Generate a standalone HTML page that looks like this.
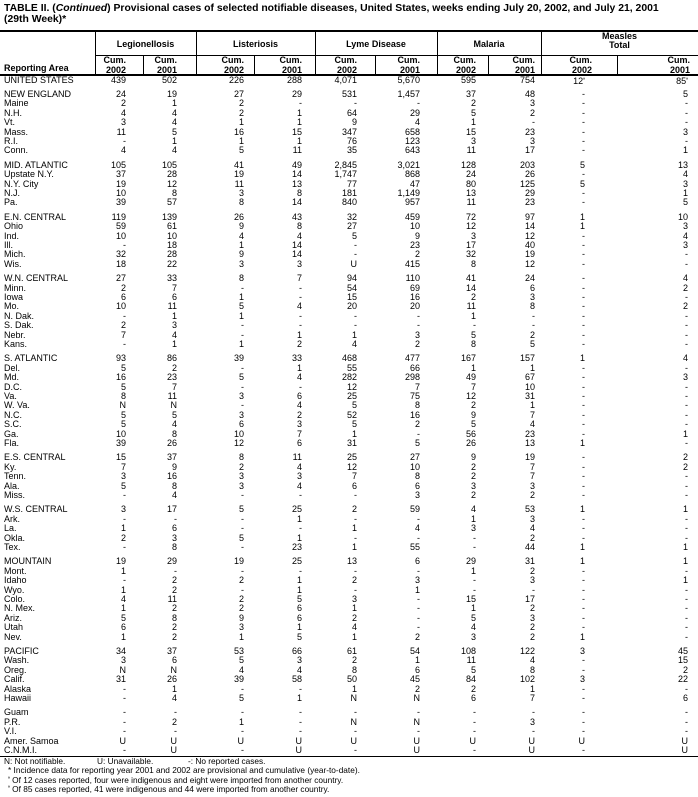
<!DOCTYPE html>
<html><head><meta charset="utf-8">
<style>
*{margin:0;padding:0;box-sizing:border-box}
body{width:698px;height:797px;background:#fff;font-family:"Liberation Sans",Arial,sans-serif;color:#000;position:relative;overflow:hidden}
.t{position:absolute;left:4px;font-weight:bold;font-size:10.4px;line-height:12px;white-space:nowrap}
.hl{position:absolute;background:#000;height:1px}
.vl{position:absolute;background:#000;width:1px}
.h{position:absolute;font-weight:bold;font-size:9px;line-height:9.5px;text-align:center;white-space:nowrap}
.c{position:absolute;font-weight:bold;font-size:9px;line-height:9.5px;text-align:right;white-space:nowrap}
.r{position:absolute;left:0;width:698px;height:10px;line-height:10px;font-size:9px;display:flex;white-space:nowrap}
.r span{text-align:right;display:block}
.r span:nth-child(1){width:95px;text-align:left;padding-left:4px}
.r span:nth-child(2){width:31px}
.r span:nth-child(3){width:51px}
.r span:nth-child(4){width:67px}
.r span:nth-child(5){width:58px}
.r span:nth-child(6){width:55px}
.r span:nth-child(7){width:63px}
.r span:nth-child(8){width:56px}
.r span:nth-child(9){width:59px}
.r span:nth-child(10){width:50px}
.r span:nth-child(11){width:103px}
sup{font-size:5px;vertical-align:3px}
.f{position:absolute;font-size:8.3px;line-height:9px;white-space:nowrap}
</style></head><body>
<div class="t" style="top:3px">TABLE II. (<i>Continued</i>) Provisional cases of selected notifiable diseases, United States, weeks ending July 20, 2002, and July 21, 2001</div>
<div class="t" style="top:14px">(29th Week)*</div>

<div class="hl" style="top:30px;left:0;width:698px;height:1.5px"></div>
<div class="hl" style="top:55px;left:95px;width:603px"></div>
<div class="hl" style="top:74px;left:0;width:698px;height:1.5px"></div>
<div class="vl" style="left:95px;top:30px;height:45px"></div>
<div class="vl" style="left:196px;top:30px;height:45px"></div>
<div class="vl" style="left:315px;top:30px;height:45px"></div>
<div class="vl" style="left:437px;top:30px;height:45px"></div>
<div class="vl" style="left:541px;top:30px;height:45px"></div>
<div class="vl" style="left:143px;top:55px;height:20px"></div>
<div class="vl" style="left:254px;top:55px;height:20px"></div>
<div class="vl" style="left:375px;top:55px;height:20px"></div>
<div class="vl" style="left:488px;top:55px;height:20px"></div>
<div class="vl" style="left:617px;top:55px;height:20px"></div>

<div class="h" style="left:95px;width:101px;top:40px">Legionellosis</div>
<div class="h" style="left:196px;width:119px;top:40px">Listeriosis</div>
<div class="h" style="left:315px;width:122px;top:40px">Lyme Disease</div>
<div class="h" style="left:437px;width:104px;top:40px">Malaria</div>
<div class="h" style="left:541px;width:157px;top:32px">Measles</div>
<div class="h" style="left:541px;width:157px;top:41px">Total</div>

<div class="c" style="left:4px;top:64px;text-align:left">Reporting Area</div>
<div class="c" style="left:96px;width:30px;top:56px">Cum.<br>2002</div>
<div class="c" style="left:144px;width:33px;top:56px">Cum.<br>2001</div>
<div class="c" style="left:197px;width:47px;top:56px">Cum.<br>2002</div>
<div class="c" style="left:255px;width:47px;top:56px">Cum.<br>2001</div>
<div class="c" style="left:316px;width:41px;top:56px">Cum.<br>2002</div>
<div class="c" style="left:376px;width:44px;top:56px">Cum.<br>2001</div>
<div class="c" style="left:438px;width:38px;top:56px">Cum.<br>2002</div>
<div class="c" style="left:489px;width:46px;top:56px">Cum.<br>2001</div>
<div class="c" style="left:542px;width:50px;top:56px">Cum.<br>2002</div>
<div class="c" style="left:618px;width:72px;top:56px">Cum.<br>2001</div>

<div class="r" style="top:75px"><span>UNITED STATES</span><span>439</span><span>502</span><span>226</span><span>288</span><span>4,071</span><span>5,670</span><span>595</span><span>754</span><span>12<sup>ª</sup></span><span>85<sup>ª</sup></span></div>

<div class="r" style="top:89px"><span>NEW ENGLAND</span><span>24</span><span>19</span><span>27</span><span>29</span><span>531</span><span>1,457</span><span>37</span><span>48</span><span>-</span><span>5</span></div>
<div class="r" style="top:98.4px"><span>Maine</span><span>2</span><span>1</span><span>2</span><span>-</span><span>-</span><span>-</span><span>2</span><span>3</span><span>-</span><span>-</span></div>
<div class="r" style="top:107.8px"><span>N.H.</span><span>4</span><span>4</span><span>2</span><span>1</span><span>64</span><span>29</span><span>5</span><span>2</span><span>-</span><span>-</span></div>
<div class="r" style="top:117.2px"><span>Vt.</span><span>3</span><span>4</span><span>1</span><span>1</span><span>9</span><span>4</span><span>1</span><span>-</span><span>-</span><span>-</span></div>
<div class="r" style="top:126.6px"><span>Mass.</span><span>11</span><span>5</span><span>16</span><span>15</span><span>347</span><span>658</span><span>15</span><span>23</span><span>-</span><span>3</span></div>
<div class="r" style="top:136px"><span>R.I.</span><span>-</span><span>1</span><span>1</span><span>1</span><span>76</span><span>123</span><span>3</span><span>3</span><span>-</span><span>-</span></div>
<div class="r" style="top:145.4px"><span>Conn.</span><span>4</span><span>4</span><span>5</span><span>11</span><span>35</span><span>643</span><span>11</span><span>17</span><span>-</span><span>1</span></div>

<div class="r" style="top:159.8px"><span>MID. ATLANTIC</span><span>105</span><span>105</span><span>41</span><span>49</span><span>2,845</span><span>3,021</span><span>128</span><span>203</span><span>5</span><span>13</span></div>
<div class="r" style="top:169.2px"><span>Upstate N.Y.</span><span>37</span><span>28</span><span>19</span><span>14</span><span>1,747</span><span>868</span><span>24</span><span>26</span><span>-</span><span>4</span></div>
<div class="r" style="top:178.6px"><span>N.Y. City</span><span>19</span><span>12</span><span>11</span><span>13</span><span>77</span><span>47</span><span>80</span><span>125</span><span>5</span><span>3</span></div>
<div class="r" style="top:188px"><span>N.J.</span><span>10</span><span>8</span><span>3</span><span>8</span><span>181</span><span>1,149</span><span>13</span><span>29</span><span>-</span><span>1</span></div>
<div class="r" style="top:197.4px"><span>Pa.</span><span>39</span><span>57</span><span>8</span><span>14</span><span>840</span><span>957</span><span>11</span><span>23</span><span>-</span><span>5</span></div>

<div class="r" style="top:211.8px"><span>E.N. CENTRAL</span><span>119</span><span>139</span><span>26</span><span>43</span><span>32</span><span>459</span><span>72</span><span>97</span><span>1</span><span>10</span></div>
<div class="r" style="top:221.2px"><span>Ohio</span><span>59</span><span>61</span><span>9</span><span>8</span><span>27</span><span>10</span><span>12</span><span>14</span><span>1</span><span>3</span></div>
<div class="r" style="top:230.6px"><span>Ind.</span><span>10</span><span>10</span><span>4</span><span>4</span><span>5</span><span>9</span><span>3</span><span>12</span><span>-</span><span>4</span></div>
<div class="r" style="top:240px"><span>Ill.</span><span>-</span><span>18</span><span>1</span><span>14</span><span>-</span><span>23</span><span>17</span><span>40</span><span>-</span><span>3</span></div>
<div class="r" style="top:249.4px"><span>Mich.</span><span>32</span><span>28</span><span>9</span><span>14</span><span>-</span><span>2</span><span>32</span><span>19</span><span>-</span><span>-</span></div>
<div class="r" style="top:258.8px"><span>Wis.</span><span>18</span><span>22</span><span>3</span><span>3</span><span>U</span><span>415</span><span>8</span><span>12</span><span>-</span><span>-</span></div>

<div class="r" style="top:273.2px"><span>W.N. CENTRAL</span><span>27</span><span>33</span><span>8</span><span>7</span><span>94</span><span>110</span><span>41</span><span>24</span><span>-</span><span>4</span></div>
<div class="r" style="top:282.6px"><span>Minn.</span><span>2</span><span>7</span><span>-</span><span>-</span><span>54</span><span>69</span><span>14</span><span>6</span><span>-</span><span>2</span></div>
<div class="r" style="top:292px"><span>Iowa</span><span>6</span><span>6</span><span>1</span><span>-</span><span>15</span><span>16</span><span>2</span><span>3</span><span>-</span><span>-</span></div>
<div class="r" style="top:301.4px"><span>Mo.</span><span>10</span><span>11</span><span>5</span><span>4</span><span>20</span><span>20</span><span>11</span><span>8</span><span>-</span><span>2</span></div>
<div class="r" style="top:310.8px"><span>N. Dak.</span><span>-</span><span>1</span><span>1</span><span>-</span><span>-</span><span>-</span><span>1</span><span>-</span><span>-</span><span>-</span></div>
<div class="r" style="top:320.2px"><span>S. Dak.</span><span>2</span><span>3</span><span>-</span><span>-</span><span>-</span><span>-</span><span>-</span><span>-</span><span>-</span><span>-</span></div>
<div class="r" style="top:329.6px"><span>Nebr.</span><span>7</span><span>4</span><span>-</span><span>1</span><span>1</span><span>3</span><span>5</span><span>2</span><span>-</span><span>-</span></div>
<div class="r" style="top:339px"><span>Kans.</span><span>-</span><span>1</span><span>1</span><span>2</span><span>4</span><span>2</span><span>8</span><span>5</span><span>-</span><span>-</span></div>

<div class="r" style="top:353.4px"><span>S. ATLANTIC</span><span>93</span><span>86</span><span>39</span><span>33</span><span>468</span><span>477</span><span>167</span><span>157</span><span>1</span><span>4</span></div>
<div class="r" style="top:362.8px"><span>Del.</span><span>5</span><span>2</span><span>-</span><span>1</span><span>55</span><span>66</span><span>1</span><span>1</span><span>-</span><span>-</span></div>
<div class="r" style="top:372.2px"><span>Md.</span><span>16</span><span>23</span><span>5</span><span>4</span><span>282</span><span>298</span><span>49</span><span>67</span><span>-</span><span>3</span></div>
<div class="r" style="top:381.6px"><span>D.C.</span><span>5</span><span>7</span><span>-</span><span>-</span><span>12</span><span>7</span><span>7</span><span>10</span><span>-</span><span>-</span></div>
<div class="r" style="top:391px"><span>Va.</span><span>8</span><span>11</span><span>3</span><span>6</span><span>25</span><span>75</span><span>12</span><span>31</span><span>-</span><span>-</span></div>
<div class="r" style="top:400.4px"><span>W. Va.</span><span>N</span><span>N</span><span>-</span><span>4</span><span>5</span><span>8</span><span>2</span><span>1</span><span>-</span><span>-</span></div>
<div class="r" style="top:409.8px"><span>N.C.</span><span>5</span><span>5</span><span>3</span><span>2</span><span>52</span><span>16</span><span>9</span><span>7</span><span>-</span><span>-</span></div>
<div class="r" style="top:419.2px"><span>S.C.</span><span>5</span><span>4</span><span>6</span><span>3</span><span>5</span><span>2</span><span>5</span><span>4</span><span>-</span><span>-</span></div>
<div class="r" style="top:428.6px"><span>Ga.</span><span>10</span><span>8</span><span>10</span><span>7</span><span>1</span><span>-</span><span>56</span><span>23</span><span>-</span><span>1</span></div>
<div class="r" style="top:438px"><span>Fla.</span><span>39</span><span>26</span><span>12</span><span>6</span><span>31</span><span>5</span><span>26</span><span>13</span><span>1</span><span>-</span></div>

<div class="r" style="top:452.4px"><span>E.S. CENTRAL</span><span>15</span><span>37</span><span>8</span><span>11</span><span>25</span><span>27</span><span>9</span><span>19</span><span>-</span><span>2</span></div>
<div class="r" style="top:461.8px"><span>Ky.</span><span>7</span><span>9</span><span>2</span><span>4</span><span>12</span><span>10</span><span>2</span><span>7</span><span>-</span><span>2</span></div>
<div class="r" style="top:471.2px"><span>Tenn.</span><span>3</span><span>16</span><span>3</span><span>3</span><span>7</span><span>8</span><span>2</span><span>7</span><span>-</span><span>-</span></div>
<div class="r" style="top:480.6px"><span>Ala.</span><span>5</span><span>8</span><span>3</span><span>4</span><span>6</span><span>6</span><span>3</span><span>3</span><span>-</span><span>-</span></div>
<div class="r" style="top:490px"><span>Miss.</span><span>-</span><span>4</span><span>-</span><span>-</span><span>-</span><span>3</span><span>2</span><span>2</span><span>-</span><span>-</span></div>

<div class="r" style="top:504.4px"><span>W.S. CENTRAL</span><span>3</span><span>17</span><span>5</span><span>25</span><span>2</span><span>59</span><span>4</span><span>53</span><span>1</span><span>1</span></div>
<div class="r" style="top:513.8px"><span>Ark.</span><span>-</span><span>-</span><span>-</span><span>1</span><span>-</span><span>-</span><span>1</span><span>3</span><span>-</span><span>-</span></div>
<div class="r" style="top:523.2px"><span>La.</span><span>1</span><span>6</span><span>-</span><span>-</span><span>1</span><span>4</span><span>3</span><span>4</span><span>-</span><span>-</span></div>
<div class="r" style="top:532.6px"><span>Okla.</span><span>2</span><span>3</span><span>5</span><span>1</span><span>-</span><span>-</span><span>-</span><span>2</span><span>-</span><span>-</span></div>
<div class="r" style="top:542px"><span>Tex.</span><span>-</span><span>8</span><span>-</span><span>23</span><span>1</span><span>55</span><span>-</span><span>44</span><span>1</span><span>1</span></div>

<div class="r" style="top:556.4px"><span>MOUNTAIN</span><span>19</span><span>29</span><span>19</span><span>25</span><span>13</span><span>6</span><span>29</span><span>31</span><span>1</span><span>1</span></div>
<div class="r" style="top:565.8px"><span>Mont.</span><span>1</span><span>-</span><span>-</span><span>-</span><span>-</span><span>-</span><span>1</span><span>2</span><span>-</span><span>-</span></div>
<div class="r" style="top:575.2px"><span>Idaho</span><span>-</span><span>2</span><span>2</span><span>1</span><span>2</span><span>3</span><span>-</span><span>3</span><span>-</span><span>1</span></div>
<div class="r" style="top:584.6px"><span>Wyo.</span><span>1</span><span>2</span><span>-</span><span>1</span><span>-</span><span>1</span><span>-</span><span>-</span><span>-</span><span>-</span></div>
<div class="r" style="top:594px"><span>Colo.</span><span>4</span><span>11</span><span>2</span><span>5</span><span>3</span><span>-</span><span>15</span><span>17</span><span>-</span><span>-</span></div>
<div class="r" style="top:603.4px"><span>N. Mex.</span><span>1</span><span>2</span><span>2</span><span>6</span><span>1</span><span>-</span><span>1</span><span>2</span><span>-</span><span>-</span></div>
<div class="r" style="top:612.8px"><span>Ariz.</span><span>5</span><span>8</span><span>9</span><span>6</span><span>2</span><span>-</span><span>5</span><span>3</span><span>-</span><span>-</span></div>
<div class="r" style="top:622.2px"><span>Utah</span><span>6</span><span>2</span><span>3</span><span>1</span><span>4</span><span>-</span><span>4</span><span>2</span><span>-</span><span>-</span></div>
<div class="r" style="top:631.6px"><span>Nev.</span><span>1</span><span>2</span><span>1</span><span>5</span><span>1</span><span>2</span><span>3</span><span>2</span><span>1</span><span>-</span></div>

<div class="r" style="top:646px"><span>PACIFIC</span><span>34</span><span>37</span><span>53</span><span>66</span><span>61</span><span>54</span><span>108</span><span>122</span><span>3</span><span>45</span></div>
<div class="r" style="top:655.4px"><span>Wash.</span><span>3</span><span>6</span><span>5</span><span>3</span><span>2</span><span>1</span><span>11</span><span>4</span><span>-</span><span>15</span></div>
<div class="r" style="top:664.8px"><span>Oreg.</span><span>N</span><span>N</span><span>4</span><span>4</span><span>8</span><span>6</span><span>5</span><span>8</span><span>-</span><span>2</span></div>
<div class="r" style="top:674.2px"><span>Calif.</span><span>31</span><span>26</span><span>39</span><span>58</span><span>50</span><span>45</span><span>84</span><span>102</span><span>3</span><span>22</span></div>
<div class="r" style="top:683.6px"><span>Alaska</span><span>-</span><span>1</span><span>-</span><span>-</span><span>1</span><span>2</span><span>2</span><span>1</span><span>-</span><span>-</span></div>
<div class="r" style="top:693px"><span>Hawaii</span><span>-</span><span>4</span><span>5</span><span>1</span><span>N</span><span>N</span><span>6</span><span>7</span><span>-</span><span>6</span></div>

<div class="r" style="top:707.4px"><span>Guam</span><span>-</span><span>-</span><span>-</span><span>-</span><span>-</span><span>-</span><span>-</span><span>-</span><span>-</span><span>-</span></div>
<div class="r" style="top:716.8px"><span>P.R.</span><span>-</span><span>2</span><span>1</span><span>-</span><span>N</span><span>N</span><span>-</span><span>3</span><span>-</span><span>-</span></div>
<div class="r" style="top:726.2px"><span>V.I.</span><span>-</span><span>-</span><span>-</span><span>-</span><span>-</span><span>-</span><span>-</span><span>-</span><span>-</span><span>-</span></div>
<div class="r" style="top:735.6px"><span>Amer. Samoa</span><span>U</span><span>U</span><span>U</span><span>U</span><span>U</span><span>U</span><span>U</span><span>U</span><span>U</span><span>U</span></div>
<div class="r" style="top:745px"><span>C.N.M.I.</span><span>-</span><span>U</span><span>-</span><span>U</span><span>-</span><span>U</span><span>-</span><span>U</span><span>-</span><span>U</span></div>

<div class="hl" style="top:756px;left:0;width:698px"></div>
<div class="f" style="left:4px;top:757px">N: Not notifiable.</div>
<div class="f" style="left:97px;top:757px">U: Unavailable.</div>
<div class="f" style="left:188px;top:757px">-: No reported cases.</div>
<div class="f" style="left:8px;top:766px">* Incidence data for reporting year 2001 and 2002 are provisional and cumulative (year-to-date).</div>
<div class="f" style="left:8px;top:775px"><sup>ª</sup> Of 12 cases reported, four were indigenous and eight were imported from another country.</div>
<div class="f" style="left:8px;top:784px"><sup>ª</sup> Of 85 cases reported, 41 were indigenous and 44 were imported from another country.</div>
</body></html>
